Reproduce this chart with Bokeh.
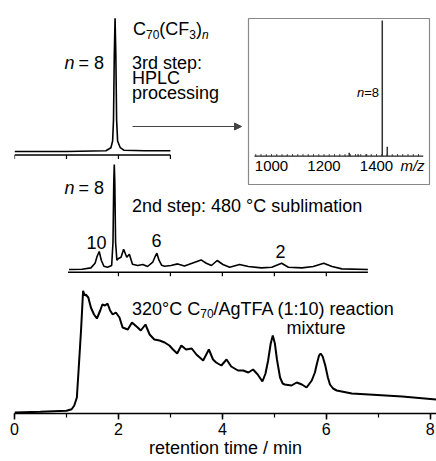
from bokeh.plotting import figure
from bokeh.models import Range1d, SingleIntervalTicker, Arrow, NormalHead
from bokeh.core.properties import value
from bokeh.embed import file_html
from bokeh.resources import INLINE

# ---------------- data ----------------
# bottom trace: 320 C C70/AgTFA reaction mixture (retention time / min, intensity)
bot_t = [0.0, 0.5, 1.0, 1.10, 1.15, 1.20, 1.24, 1.28, 1.32, 1.35, 1.37, 1.42, 1.47, 1.53, 1.585,
         1.65, 1.69, 1.74, 1.79, 1.84, 1.89, 1.95, 2.02, 2.08, 2.18, 2.26, 2.37, 2.43, 2.52, 2.60,
         2.69, 2.79, 2.89, 2.98, 3.05, 3.13, 3.21, 3.30, 3.41, 3.50, 3.63, 3.74, 3.82, 3.88, 3.98,
         4.08, 4.17, 4.30, 4.40, 4.50, 4.59, 4.68, 4.77, 4.83, 4.88, 4.93, 4.97, 5.01, 5.05, 5.11,
         5.16, 5.20, 5.33, 5.43, 5.53, 5.62, 5.72, 5.78, 5.82, 5.86, 5.89, 5.93, 5.98, 6.03, 6.07,
         6.13, 6.20, 6.49, 6.82, 7.46, 8.12]
bot_i = [1, 1.8, 2.7, 4.3, 8, 16, 49, 83, 122.7, 118, 119, 116, 106, 99, 95,
         103, 109, 108, 110, 103, 99, 101, 96, 86, 84, 91, 86, 83, 89, 79,
         74, 73, 71, 68, 64, 60, 68, 64, 65, 59, 53, 64, 54, 51, 48,
         54, 47, 43, 43, 41, 44, 39, 32, 40, 53, 70, 78, 70, 54, 36,
         30, 29, 28, 31, 29, 26, 33, 41, 50, 58, 60, 57, 48, 36, 29,
         25, 23, 20, 19, 17, 14]

# middle trace: 2nd step, 480 C sublimation
mid_t = [1.05, 1.30, 1.47, 1.55, 1.59, 1.63, 1.67, 1.72, 1.79, 1.87,
         1.895, 1.91, 1.92, 1.93, 1.945, 1.97, 2.00, 2.05, 2.10, 2.16,
         2.21, 2.27, 2.37, 2.47, 2.56, 2.66, 2.70, 2.74, 2.78, 2.83,
         2.89, 3.01, 3.14, 3.27, 3.43, 3.59, 3.69, 3.79, 3.90, 4.01,
         4.14, 4.33, 4.50, 4.75, 4.95, 5.14, 5.27, 5.53, 5.75, 5.95,
         6.11, 6.30, 6.80]
mid_i = [2.7, 3.0, 4.3, 9, 16, 20.7, 12, 6, 5, 6.7,
         30, 90, 107.7, 90, 30, 12, 13.7, 15, 23, 15,
         18, 8, 6.7, 7.7, 5.7, 10, 15, 19, 12, 7,
         6, 6.7, 8.3, 6.3, 9.3, 12.3, 9, 6.7, 11.7, 7.7,
         5, 7.7, 5.7, 4.3, 5, 9, 5, 4.3, 5.7, 9,
         5.7, 3.3, 2.7]
mid_axis = [1.03, 6.8]
mid_ticks = [2, 3, 4, 5, 6]

# top trace: 3rd step, HPLC processing
top_t = [0.0, 1.0, 1.76, 1.855, 1.888, 1.905, 1.92, 1.935, 1.95, 1.965, 1.984, 2.035, 2.11, 2.5, 3.0]
top_i = [3.5, 3.5, 4.2, 7.3, 14, 35, 100, 136.7, 100, 35, 14, 7.3, 4.7, 4.2, 4.2]
top_axis = [0, 3]
top_ticks = [0, 1, 2, 3]

# inset mass spectrum (m/z, relative intensity)
ms_mz = [1296, 1330, 1362, 1422, 1441]
ms_int = [2.5, 1.5, 1.5, 100, 7]
ms_axis = [935, 1578]
ms_ticks = [1000, 1200, 1400]
ms_minor = list(range(940, 1580, 20))

x_ticks_interval = 2
x_title = "retention time / min"

FONT = "Liberation Sans"

# Arial/Liberation Sans advance widths (per em) to place rich-text pieces
ADV = {**{d: 0.556 for d in "0123456789"}, " ": 0.278, "\u00b0": 0.4, "C": 0.722, "/": 0.278,
       "A": 0.667, "g": 0.556, "T": 0.611, "F": 0.611, "(": 0.333, ")": 0.333, ":": 0.278,
       "r": 0.333, "e": 0.556, "a": 0.556, "c": 0.5, "t": 0.278, "i": 0.222, "o": 0.556,
       "n": 0.556, "=": 0.584}


def tw(s, size):
    return sum(ADV.get(ch, 0.556) for ch in s) * size


# ---------------- layout geometry (pixels) ----------------
W, H = 436, 461
L, B = 14, 48
FH = H - B                 # frame height
XMAX = 8.12
PPM = (W - L) / XMAX       # px per minute


def xm(px):
    return (px - L) / PPM


def yl(py):
    return FH - py


MID_AX, TOP_AX, MS_AX = 271.7, 154.5, 155.7
MS_SCALE = 1.357           # px per intensity unit in inset
MZ_PX0, MZ_S = 271.0, 0.2625   # px of m/z 1000, px per m/z unit


def mz_at(px):
    return 1000 + (px - MZ_PX0) / MZ_S


p = figure(width=W, height=H, output_backend="svg", toolbar_location=None,
           x_range=Range1d(0, XMAX), y_range=Range1d(0, FH),
           min_border_left=L, min_border_right=0, min_border_top=0, min_border_bottom=B,
           y_axis_location=None)
p.outline_line_color = None
p.xgrid.visible = False
p.ygrid.visible = False
p.background_fill_color = "white"

p.extra_y_ranges = {
    "mid": Range1d(-(FH - MID_AX), MID_AX),
    "top": Range1d(-(FH - TOP_AX), TOP_AX),
    "ms": Range1d(-(FH - MS_AX) / MS_SCALE, MS_AX / MS_SCALE),
}
p.extra_x_ranges = {"mz": Range1d(mz_at(L), mz_at(W))}

# bottom axis
ax = p.xaxis[0]
ax.ticker = SingleIntervalTicker(interval=x_ticks_interval, num_minor_ticks=2)
ax.axis_line_width = 1.5
ax.axis_line_color = "black"
ax.major_tick_line_width = 1.5
ax.minor_tick_line_width = 1.2
ax.major_tick_in = 0
ax.major_tick_out = 6
ax.minor_tick_in = 0
ax.minor_tick_out = 4
ax.major_label_text_font = FONT
ax.major_label_text_font_size = "16px"
ax.major_label_text_color = "black"
ax.major_label_standoff = 3
ax.axis_label = x_title
ax.axis_label_text_font = FONT
ax.axis_label_text_font_size = "18px"
ax.axis_label_text_font_style = "normal"
ax.axis_label_text_color = "black"
ax.axis_label_standoff = 0

# traces
p.line(bot_t, bot_i, line_color="black", line_width=2)
p.line(mid_t, mid_i, line_color="black", line_width=1.6, y_range_name="mid")
p.line(top_t, top_i, line_color="black", line_width=1.6, y_range_name="top")

# mini axes
p.line(mid_axis, [0, 0], line_color="black", line_width=1.4, y_range_name="mid")
p.segment(x0=mid_ticks, y0=[0] * len(mid_ticks), x1=mid_ticks, y1=[-4] * len(mid_ticks),
          line_color="black", line_width=1.2, y_range_name="mid")
p.line(top_axis, [0, 0], line_color="black", line_width=1.4, y_range_name="top")
p.segment(x0=top_ticks, y0=[0] * len(top_ticks), x1=top_ticks, y1=[-4] * len(top_ticks),
          line_color="black", line_width=1.2, y_range_name="top")

# inset
p.quad(left=[mz_at(248)], right=[mz_at(429)], bottom=[-(184 - MS_AX) / MS_SCALE],
       top=[(MS_AX - 18) / MS_SCALE], fill_color=None, line_color="#888888", line_width=1.2,
       x_range_name="mz", y_range_name="ms")
p.line(ms_axis, [0, 0], line_color="#222222", line_width=1.2, x_range_name="mz", y_range_name="ms")
p.segment(x0=ms_minor, y0=[0] * len(ms_minor), x1=ms_minor, y1=[1.6] * len(ms_minor),
          line_color="#222222", line_width=0.8, x_range_name="mz", y_range_name="ms")
p.segment(x0=ms_mz, y0=[0] * len(ms_mz), x1=ms_mz, y1=ms_int, line_color="#333333",
          line_width=1.5, x_range_name="mz", y_range_name="ms")
p.text(x=ms_ticks, y=[-(165 - MS_AX) / MS_SCALE] * 3, text=[str(t) for t in ms_ticks],
       text_font=value(FONT), text_font_size="15px", text_align="center",
       text_baseline="middle", text_color="black", x_range_name="mz", y_range_name="ms")
p.text(x=[mz_at(412)], y=[-(165 - MS_AX) / MS_SCALE], text=["m/z"], text_font=value(FONT),
       text_font_size="15px", text_font_style="italic", text_align="center",
       text_baseline="middle", text_color="black", x_range_name="mz", y_range_name="ms")


def txt(px, py, s, size=18, align="left", style="normal"):
    p.text(x=[xm(px)], y=[yl(py)], text=[s], text_font=value(FONT), text_font_size=f"{size}px",
           text_font_style=style, text_align=align, text_baseline="middle", text_color="black")


def rich(px, py, pieces, size=18, sub=12, drop=6):
    """pieces: list of (text, kind) with kind in 'n' normal, 's' subscript, 'si' italic subscript,
    'i' italic"""
    x = px
    for s, kind in pieces:
        sz = sub if kind in ("s", "si") else size
        dy = drop if kind in ("s", "si") else 0
        style = "italic" if kind in ("i", "si") else "normal"
        txt(x, py + dy, s, size=sz, style=style)
        x += tw(s, sz)


# title formula C70(CF3)n
rich(132.5, 28, [("C", "n"), ("70", "s"), ("(CF", "n"), ("3", "s"), (")", "n"), ("n", "si")])

# top trace labels
txt(64, 62, "n", style="italic")
txt(103.5, 62, "= 8", align="right")
txt(131.5, 62, "3rd step:")
txt(131.5, 77.5, "HPLC")
txt(131.5, 92, "processing")

# inset label
txt(378.5 - tw("=8", 13) - tw("n", 13), 91.7, "n", size=13, style="italic")
txt(378.5, 91.7, "=8", size=13, align="right")

# arrow
p.add_layout(Arrow(x_start=xm(132), y_start=yl(126), x_end=xm(241), y_end=yl(126),
                   line_color="#444444", line_width=1.2,
                   end=NormalHead(size=7, fill_color="#444444", line_color="#444444")))

# middle trace labels
txt(64, 187, "n", style="italic")
txt(103.5, 187, "= 8", align="right")
txt(131.5, 205, "2nd step: 480 \u00b0C sublimation")
txt(96, 242, "10", align="center")
txt(156, 240, "6", align="center")
txt(280, 251, "2", align="center")

# bottom trace labels
rich(131.5, 308, [("320\u00b0C C", "n"), ("70", "s"), ("/AgTFA (1:10) reaction", "n")], drop=5)
txt(286, 327, "mixture")

open("out.html", "w").write(file_html(p, INLINE))
